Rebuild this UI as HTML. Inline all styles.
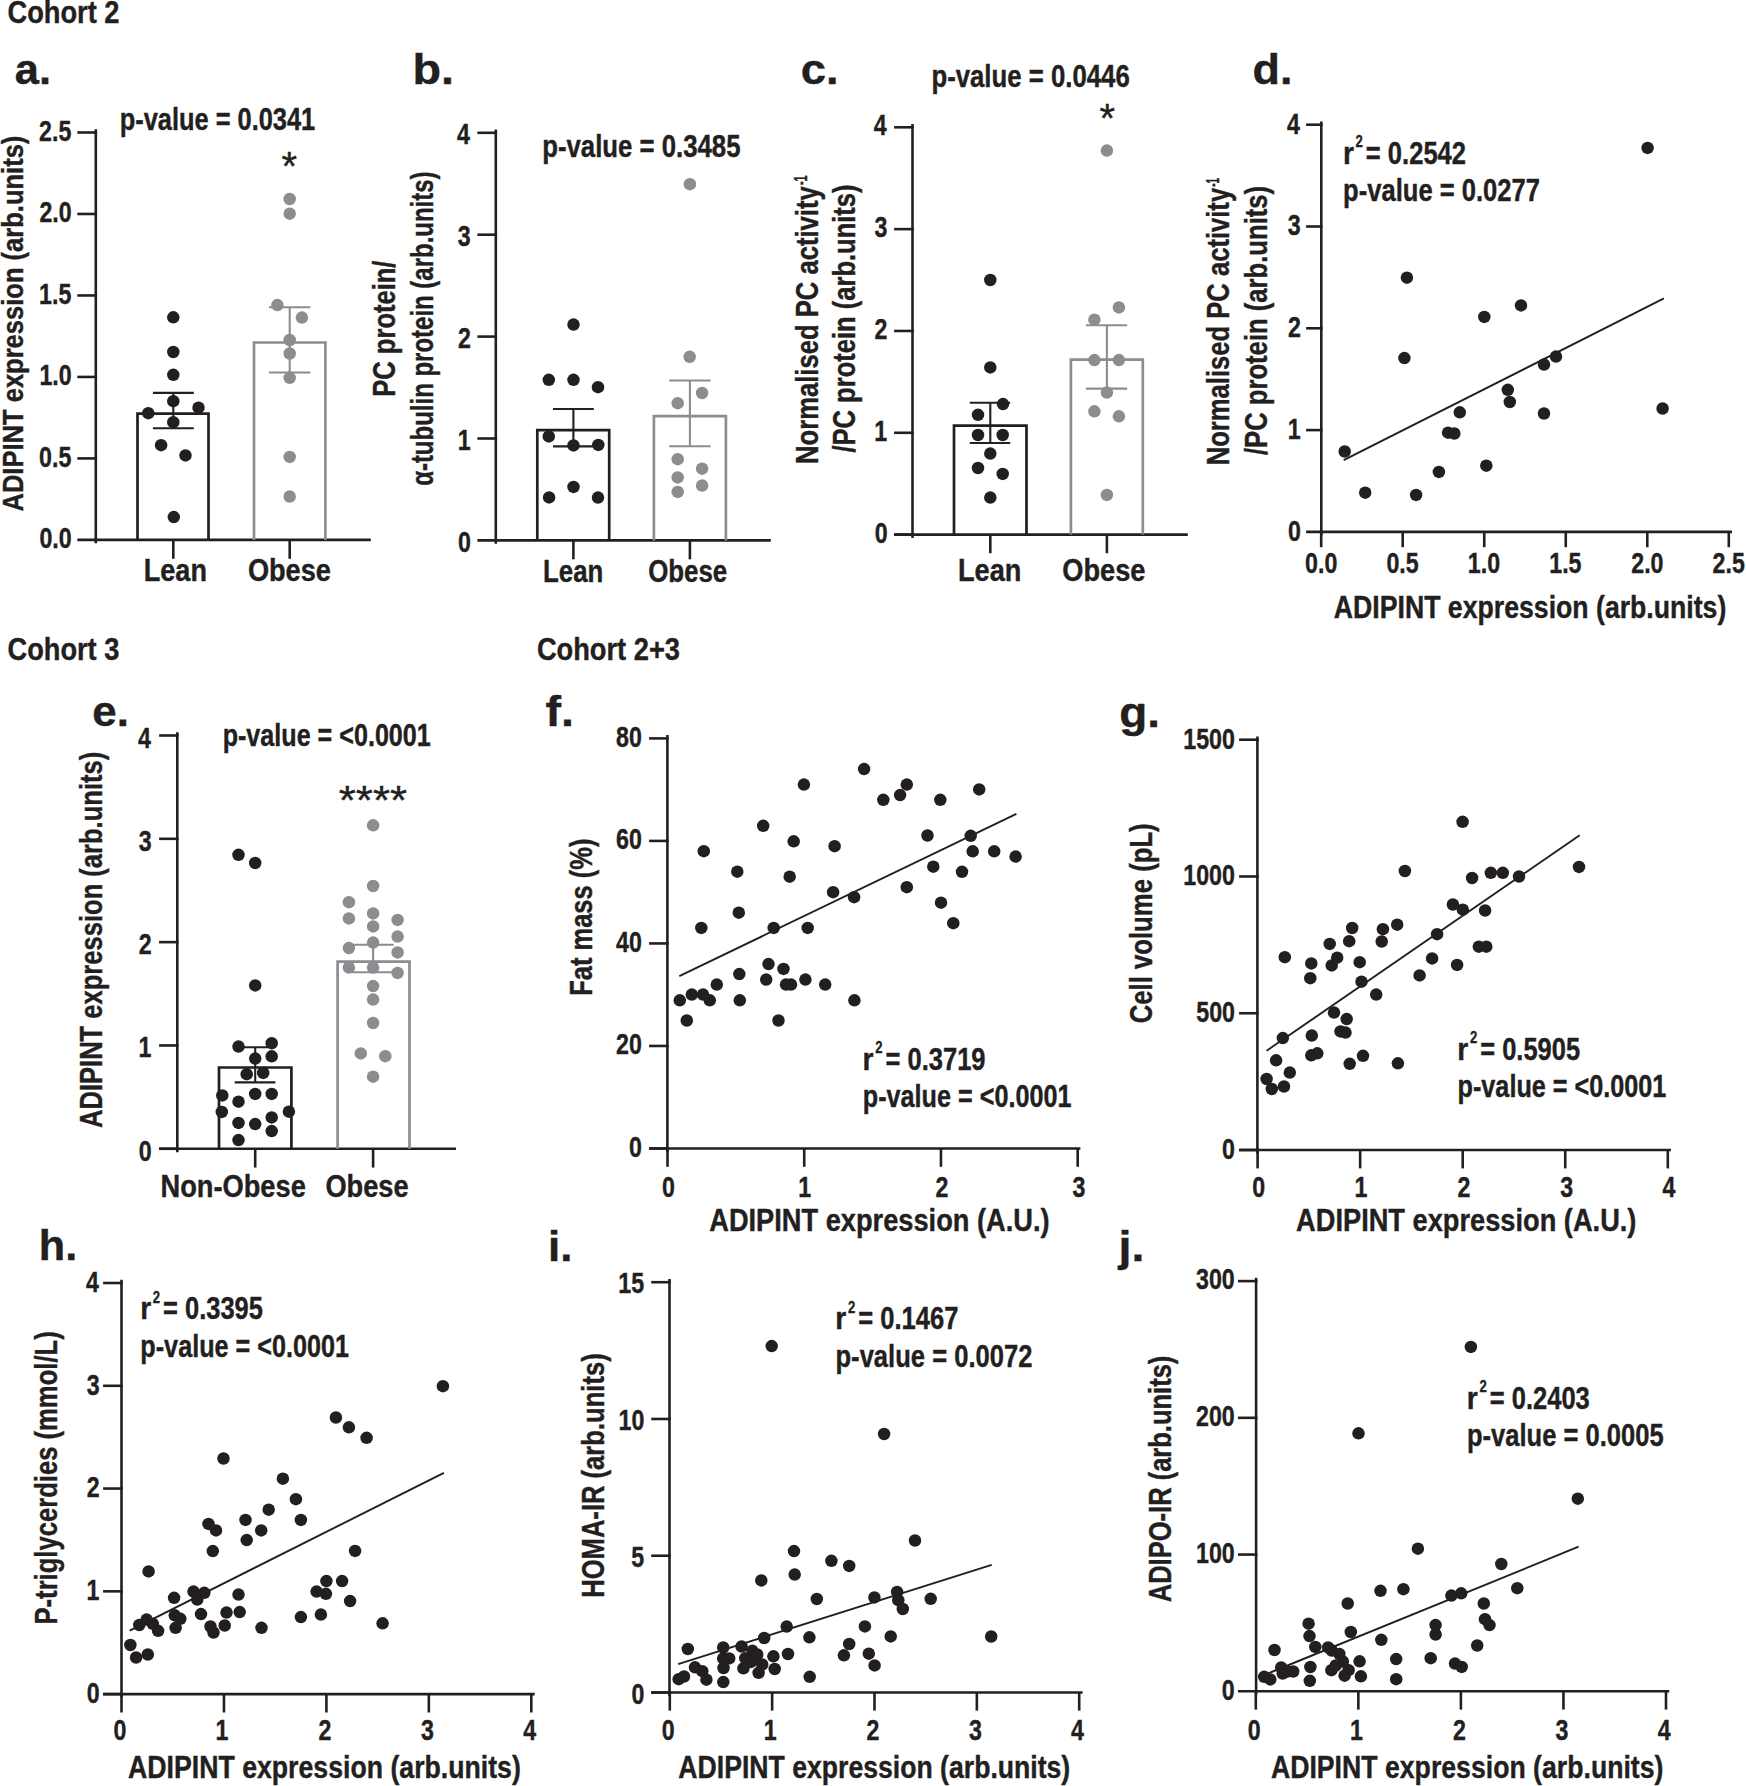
<!DOCTYPE html>
<html><head><meta charset="utf-8"><title>Figure</title>
<style>html,body{margin:0;padding:0;background:#fff}svg{display:block}text{font-family:"Liberation Sans",sans-serif;font-weight:bold;fill:#231f20;stroke:#231f20;stroke-width:0.4px}</style>
</head><body>
<svg width="1746" height="1786" viewBox="0 0 1746 1786">
<rect width="1746" height="1786" fill="#fff"/>
<text x="7.48" y="22.9" font-size="31.5" textLength="112.01" lengthAdjust="spacingAndGlyphs">Cohort 2</text>
<text x="7.48" y="660.3" font-size="31.5" textLength="111.9" lengthAdjust="spacingAndGlyphs">Cohort 3</text>
<text x="536.88" y="660.3" font-size="31.5" textLength="143.1" lengthAdjust="spacingAndGlyphs">Cohort 2+3</text>
<text x="14.83" y="83.8" font-size="43" textLength="36.27" lengthAdjust="spacingAndGlyphs">a.</text>
<text x="412.42" y="84" font-size="43" textLength="41.49" lengthAdjust="spacingAndGlyphs">b.</text>
<text x="800.73" y="84" font-size="43" textLength="37.79" lengthAdjust="spacingAndGlyphs">c.</text>
<text x="1252.56" y="84" font-size="43" textLength="39.94" lengthAdjust="spacingAndGlyphs">d.</text>
<text x="92.28" y="725.7" font-size="43" textLength="36.64" lengthAdjust="spacingAndGlyphs">e.</text>
<text x="545.4" y="725.7" font-size="43" textLength="28.51" lengthAdjust="spacingAndGlyphs">f.</text>
<text x="1119.32" y="727" font-size="43" textLength="40.74" lengthAdjust="spacingAndGlyphs">g.</text>
<text x="38.88" y="1260.3" font-size="43" textLength="38.39" lengthAdjust="spacingAndGlyphs">h.</text>
<text x="548.14" y="1260.8" font-size="43" textLength="24.39" lengthAdjust="spacingAndGlyphs">i.</text>
<text x="1118.63" y="1260.5" font-size="43" textLength="25.88" lengthAdjust="spacingAndGlyphs">j.</text>
<line x1="95.8" y1="129.2" x2="95.8" y2="543.3" stroke="#231f20" stroke-width="2.6"/>
<line x1="77.3" y1="539.9" x2="370.8" y2="539.9" stroke="#231f20" stroke-width="2.6"/>
<line x1="77.3" y1="132.5" x2="97.1" y2="132.5" stroke="#231f20" stroke-width="2.6"/>
<text x="39.08" y="140.9" font-size="29.2" textLength="32.27" lengthAdjust="spacingAndGlyphs">2.5</text>
<line x1="77.3" y1="213.98" x2="97.1" y2="213.98" stroke="#231f20" stroke-width="2.6"/>
<text x="39.38" y="222.38" font-size="29.2" textLength="32.27" lengthAdjust="spacingAndGlyphs">2.0</text>
<line x1="77.3" y1="295.46" x2="97.1" y2="295.46" stroke="#231f20" stroke-width="2.6"/>
<text x="39.08" y="303.86" font-size="29.2" textLength="32.27" lengthAdjust="spacingAndGlyphs">1.5</text>
<line x1="77.3" y1="376.94" x2="97.1" y2="376.94" stroke="#231f20" stroke-width="2.6"/>
<text x="39.38" y="385.34" font-size="29.2" textLength="32.27" lengthAdjust="spacingAndGlyphs">1.0</text>
<line x1="77.3" y1="458.42" x2="97.1" y2="458.42" stroke="#231f20" stroke-width="2.6"/>
<text x="39.08" y="466.82" font-size="29.2" textLength="32.27" lengthAdjust="spacingAndGlyphs">0.5</text>
<text x="39.38" y="548.3" font-size="29.2" textLength="32.27" lengthAdjust="spacingAndGlyphs">0.0</text>
<line x1="173.3" y1="539.9" x2="173.3" y2="558.8" stroke="#231f20" stroke-width="2.6"/>
<line x1="289.7" y1="539.9" x2="289.7" y2="558.8" stroke="#231f20" stroke-width="2.6"/>
<path d="M137.5 539.9V413.7H208.5V539.9" fill="none" stroke="#231f20" stroke-width="2.7"/>
<path d="M254 539.9V342.5H325.4V539.9" fill="none" stroke="#8b8d90" stroke-width="2.7"/>
<path d="M152.9 392.9H193.8M152.9 428.2H193.8M173.3 392.9V428.2" fill="none" stroke="#231f20" stroke-width="2.1"/>
<path d="M269 307.3H310.4M269 372.5H310.4M289.7 307.3V372.5" fill="none" stroke="#8b8d90" stroke-width="2.1"/>
<g fill="#231f20"><circle cx="173.3" cy="317.3" r="6.25"/><circle cx="173.3" cy="352" r="6.25"/><circle cx="173.3" cy="374.8" r="6.25"/><circle cx="173.3" cy="401.2" r="6.25"/><circle cx="198.5" cy="407.7" r="6.25"/><circle cx="148.3" cy="413.2" r="6.25"/><circle cx="173.3" cy="422.2" r="6.25"/><circle cx="161.1" cy="445.2" r="6.25"/><circle cx="185.5" cy="455.4" r="6.25"/><circle cx="173.8" cy="517.1" r="6.25"/></g>
<g fill="#8b8d90"><circle cx="289.7" cy="199" r="6.25"/><circle cx="289.7" cy="213.7" r="6.25"/><circle cx="277.4" cy="305.1" r="6.25"/><circle cx="301.9" cy="317.6" r="6.25"/><circle cx="289.7" cy="340" r="6.25"/><circle cx="289.7" cy="353.5" r="6.25"/><circle cx="289.7" cy="377.8" r="6.25"/><circle cx="289.7" cy="456.9" r="6.25"/><circle cx="289.7" cy="496.6" r="6.25"/></g>
<text x="143.79" y="580.5" font-size="31" textLength="63.19" lengthAdjust="spacingAndGlyphs">Lean</text>
<text x="247.89" y="580.5" font-size="31" textLength="83.04" lengthAdjust="spacingAndGlyphs">Obese</text>
<text x="119.73" y="130.4" font-size="31" textLength="195.48" lengthAdjust="spacingAndGlyphs">p-value = 0.0341</text>
<text x="281.51" y="180.1" font-size="40" textLength="15.57" lengthAdjust="spacingAndGlyphs" style="font-weight:normal">*</text>
<text transform="translate(23 510.9) rotate(-90)" x="-0.64" y="0" font-size="30" textLength="375.91" lengthAdjust="spacingAndGlyphs">ADIPINT expression (arb.units)</text>
<line x1="495.8" y1="129.5" x2="495.8" y2="543.8" stroke="#231f20" stroke-width="2.6"/>
<line x1="477.4" y1="540.4" x2="770.8" y2="540.4" stroke="#231f20" stroke-width="2.6"/>
<line x1="477.4" y1="132.8" x2="497.1" y2="132.8" stroke="#231f20" stroke-width="2.6"/>
<text x="457.11" y="143.9" font-size="29.2" textLength="12.91" lengthAdjust="spacingAndGlyphs">4</text>
<line x1="477.4" y1="234.7" x2="497.1" y2="234.7" stroke="#231f20" stroke-width="2.6"/>
<text x="457.83" y="245.8" font-size="29.2" textLength="12.91" lengthAdjust="spacingAndGlyphs">3</text>
<line x1="477.4" y1="336.6" x2="497.1" y2="336.6" stroke="#231f20" stroke-width="2.6"/>
<text x="457.92" y="347.7" font-size="29.2" textLength="12.91" lengthAdjust="spacingAndGlyphs">2</text>
<line x1="477.4" y1="438.5" x2="497.1" y2="438.5" stroke="#231f20" stroke-width="2.6"/>
<text x="457.64" y="449.6" font-size="29.2" textLength="12.91" lengthAdjust="spacingAndGlyphs">1</text>
<text x="457.94" y="551.5" font-size="29.2" textLength="12.91" lengthAdjust="spacingAndGlyphs">0</text>
<line x1="573.4" y1="540.4" x2="573.4" y2="559.3" stroke="#231f20" stroke-width="2.6"/>
<line x1="689.9" y1="540.4" x2="689.9" y2="559.3" stroke="#231f20" stroke-width="2.6"/>
<path d="M537.3 540.4V430.2H609.2V540.4" fill="none" stroke="#231f20" stroke-width="2.7"/>
<path d="M653.9 540.4V416.2H725.9V540.4" fill="none" stroke="#8b8d90" stroke-width="2.7"/>
<path d="M553 409H593.8M553 446.4H593.8M573.4 409V446.4" fill="none" stroke="#231f20" stroke-width="2.1"/>
<path d="M669.2 380.5H710.6M669.2 446.2H710.6M689.9 380.5V446.2" fill="none" stroke="#8b8d90" stroke-width="2.1"/>
<g fill="#231f20"><circle cx="573.5" cy="324.6" r="6.25"/><circle cx="548.8" cy="379.8" r="6.25"/><circle cx="573.5" cy="379.8" r="6.25"/><circle cx="598" cy="387.2" r="6.25"/><circle cx="548.8" cy="436.4" r="6.25"/><circle cx="573.5" cy="445.4" r="6.25"/><circle cx="598.3" cy="444.9" r="6.25"/><circle cx="573.5" cy="486.9" r="6.25"/><circle cx="549.1" cy="497.4" r="6.25"/><circle cx="598" cy="497.6" r="6.25"/></g>
<g fill="#8b8d90"><circle cx="689.9" cy="184.2" r="6.25"/><circle cx="689.7" cy="356.8" r="6.25"/><circle cx="702.1" cy="393" r="6.25"/><circle cx="677.7" cy="403.2" r="6.25"/><circle cx="677.7" cy="459.2" r="6.25"/><circle cx="702.1" cy="468.7" r="6.25"/><circle cx="677.7" cy="477.4" r="6.25"/><circle cx="702.1" cy="485.6" r="6.25"/><circle cx="677.7" cy="491.9" r="6.25"/></g>
<text x="543.07" y="582.1" font-size="31" textLength="60.23" lengthAdjust="spacingAndGlyphs">Lean</text>
<text x="648.14" y="582.1" font-size="31" textLength="79.15" lengthAdjust="spacingAndGlyphs">Obese</text>
<text x="542.2" y="157.4" font-size="31" textLength="198.31" lengthAdjust="spacingAndGlyphs">p-value = 0.3485</text>
<text transform="translate(394.8 395) rotate(-90)" x="-1.71" y="0" font-size="31.2" textLength="136.16" lengthAdjust="spacingAndGlyphs">PC protein/</text>
<text transform="translate(432.5 484.9) rotate(-90)" x="-0.94" y="0" font-size="31.2" textLength="314.43" lengthAdjust="spacingAndGlyphs">α-tubulin protein (arb.units)</text>
<line x1="912.5" y1="124" x2="912.5" y2="538" stroke="#231f20" stroke-width="2.6"/>
<line x1="894.1" y1="534.6" x2="1187.8" y2="534.6" stroke="#231f20" stroke-width="2.6"/>
<line x1="894.1" y1="127.3" x2="913.8" y2="127.3" stroke="#231f20" stroke-width="2.6"/>
<text x="873.81" y="135.4" font-size="29.2" textLength="12.91" lengthAdjust="spacingAndGlyphs">4</text>
<line x1="894.1" y1="229.13" x2="913.8" y2="229.13" stroke="#231f20" stroke-width="2.6"/>
<text x="874.53" y="237.23" font-size="29.2" textLength="12.91" lengthAdjust="spacingAndGlyphs">3</text>
<line x1="894.1" y1="330.96" x2="913.8" y2="330.96" stroke="#231f20" stroke-width="2.6"/>
<text x="874.62" y="339.06" font-size="29.2" textLength="12.91" lengthAdjust="spacingAndGlyphs">2</text>
<line x1="894.1" y1="432.79" x2="913.8" y2="432.79" stroke="#231f20" stroke-width="2.6"/>
<text x="874.34" y="440.89" font-size="29.2" textLength="12.91" lengthAdjust="spacingAndGlyphs">1</text>
<line x1="894.1" y1="534.62" x2="913.8" y2="534.62" stroke="#231f20" stroke-width="2.6"/>
<text x="874.64" y="542.72" font-size="29.2" textLength="12.91" lengthAdjust="spacingAndGlyphs">0</text>
<line x1="990.3" y1="534.6" x2="990.3" y2="553.2" stroke="#231f20" stroke-width="2.6"/>
<line x1="1106.9" y1="534.6" x2="1106.9" y2="553.2" stroke="#231f20" stroke-width="2.6"/>
<path d="M954 534.6V425.6H1026.5V534.6" fill="none" stroke="#231f20" stroke-width="2.7"/>
<path d="M1070.9 534.6V359.6H1142.8V534.6" fill="none" stroke="#8b8d90" stroke-width="2.7"/>
<path d="M969.8 402.8H1010.2M969.8 443H1010.2M990.3 402.8V443" fill="none" stroke="#231f20" stroke-width="2.1"/>
<path d="M1085.9 325.2H1127.1M1085.9 388.6H1127.1M1106.9 325.2V388.6" fill="none" stroke="#8b8d90" stroke-width="2.1"/>
<g fill="#231f20"><circle cx="990.3" cy="280" r="6.25"/><circle cx="990.3" cy="367.4" r="6.25"/><circle cx="1003" cy="404.1" r="6.25"/><circle cx="978" cy="414.8" r="6.25"/><circle cx="978" cy="435" r="6.25"/><circle cx="1002.7" cy="435" r="6.25"/><circle cx="990.3" cy="453.6" r="6.25"/><circle cx="978" cy="468" r="6.25"/><circle cx="1002.7" cy="473.9" r="6.25"/><circle cx="990.3" cy="497.6" r="6.25"/></g>
<g fill="#8b8d90"><circle cx="1106.9" cy="150.6" r="6.25"/><circle cx="1118.9" cy="307.4" r="6.25"/><circle cx="1094.4" cy="319.7" r="6.25"/><circle cx="1094.4" cy="360.1" r="6.25"/><circle cx="1118.9" cy="360.1" r="6.25"/><circle cx="1106.9" cy="392.6" r="6.25"/><circle cx="1094.4" cy="411.3" r="6.25"/><circle cx="1118.9" cy="416.3" r="6.25"/><circle cx="1106.9" cy="494.9" r="6.25"/></g>
<text x="957.98" y="581" font-size="31" textLength="63.4" lengthAdjust="spacingAndGlyphs">Lean</text>
<text x="1062.28" y="581" font-size="31" textLength="83.25" lengthAdjust="spacingAndGlyphs">Obese</text>
<text x="931.4" y="87.2" font-size="31" textLength="198.33" lengthAdjust="spacingAndGlyphs">p-value = 0.0446</text>
<text x="1099.41" y="132" font-size="40" textLength="15.57" lengthAdjust="spacingAndGlyphs" style="font-weight:normal">*</text>
<text transform="translate(817.5 462.3) rotate(-90)"><tspan x="-1.71" y="0" font-size="31.5" textLength="277.75" lengthAdjust="spacingAndGlyphs">Normalised PC activity</tspan><tspan x="277.18" y="-10.8" font-size="18" textLength="9.52" lengthAdjust="spacingAndGlyphs">-1</tspan></text>
<text transform="translate(855.1 452.3) rotate(-90)" x="-0.25" y="0" font-size="31.5" textLength="268.12" lengthAdjust="spacingAndGlyphs">/PC protein (arb.units)</text>
<line x1="1321.3" y1="121.4" x2="1321.3" y2="535.3" stroke="#231f20" stroke-width="2.6"/>
<line x1="1306.1" y1="531.9" x2="1732" y2="531.9" stroke="#231f20" stroke-width="2.6"/>
<line x1="1306.1" y1="124.7" x2="1322.6" y2="124.7" stroke="#231f20" stroke-width="2.6"/>
<text x="1287.11" y="133.65" font-size="29.2" textLength="12.91" lengthAdjust="spacingAndGlyphs">4</text>
<line x1="1306.1" y1="226.5" x2="1322.6" y2="226.5" stroke="#231f20" stroke-width="2.6"/>
<text x="1287.83" y="235.45" font-size="29.2" textLength="12.91" lengthAdjust="spacingAndGlyphs">3</text>
<line x1="1306.1" y1="328.3" x2="1322.6" y2="328.3" stroke="#231f20" stroke-width="2.6"/>
<text x="1287.92" y="337.25" font-size="29.2" textLength="12.91" lengthAdjust="spacingAndGlyphs">2</text>
<line x1="1306.1" y1="430.1" x2="1322.6" y2="430.1" stroke="#231f20" stroke-width="2.6"/>
<text x="1287.64" y="439.05" font-size="29.2" textLength="12.91" lengthAdjust="spacingAndGlyphs">1</text>
<text x="1287.94" y="540.85" font-size="29.2" textLength="12.91" lengthAdjust="spacingAndGlyphs">0</text>
<line x1="1321.2" y1="531.9" x2="1321.2" y2="547.2" stroke="#231f20" stroke-width="2.6"/>
<text x="1305.08" y="573.1" font-size="29.2" textLength="32.27" lengthAdjust="spacingAndGlyphs">0.0</text>
<line x1="1402.72" y1="531.9" x2="1402.72" y2="547.2" stroke="#231f20" stroke-width="2.6"/>
<text x="1386.45" y="573.1" font-size="29.2" textLength="32.27" lengthAdjust="spacingAndGlyphs">0.5</text>
<line x1="1484.24" y1="531.9" x2="1484.24" y2="547.2" stroke="#231f20" stroke-width="2.6"/>
<text x="1467.85" y="573.1" font-size="29.2" textLength="32.27" lengthAdjust="spacingAndGlyphs">1.0</text>
<line x1="1565.76" y1="531.9" x2="1565.76" y2="547.2" stroke="#231f20" stroke-width="2.6"/>
<text x="1549.22" y="573.1" font-size="29.2" textLength="32.27" lengthAdjust="spacingAndGlyphs">1.5</text>
<line x1="1647.28" y1="531.9" x2="1647.28" y2="547.2" stroke="#231f20" stroke-width="2.6"/>
<text x="1631.22" y="573.1" font-size="29.2" textLength="32.27" lengthAdjust="spacingAndGlyphs">2.0</text>
<line x1="1728.8" y1="531.9" x2="1728.8" y2="547.2" stroke="#231f20" stroke-width="2.6"/>
<text x="1712.59" y="573.1" font-size="29.2" textLength="32.27" lengthAdjust="spacingAndGlyphs">2.5</text>
<line x1="1343.7" y1="460.2" x2="1663.9" y2="298.4" stroke="#231f20" stroke-width="1.9"/>
<g fill="#231f20"><circle cx="1344.7" cy="451.5" r="6.25"/><circle cx="1365.2" cy="492.7" r="6.25"/><circle cx="1416.1" cy="494.9" r="6.25"/><circle cx="1438.9" cy="471.9" r="6.25"/><circle cx="1448.1" cy="432.7" r="6.25"/><circle cx="1454.3" cy="433.5" r="6.25"/><circle cx="1459.8" cy="412.3" r="6.25"/><circle cx="1486.3" cy="465.7" r="6.25"/><circle cx="1404.4" cy="358.1" r="6.25"/><circle cx="1406.9" cy="277.7" r="6.25"/><circle cx="1484.3" cy="316.9" r="6.25"/><circle cx="1521" cy="305.4" r="6.25"/><circle cx="1507.8" cy="389.8" r="6.25"/><circle cx="1509.8" cy="402" r="6.25"/><circle cx="1544" cy="364.6" r="6.25"/><circle cx="1556" cy="356.6" r="6.25"/><circle cx="1544" cy="413.5" r="6.25"/><circle cx="1662.6" cy="408.5" r="6.25"/><circle cx="1647.6" cy="147.9" r="6.25"/></g>
<text><tspan x="1342.94" y="163.6" font-size="31" textLength="10.99" lengthAdjust="spacingAndGlyphs">r</tspan><tspan x="1355.55" y="147" font-size="16.5" textLength="7.28" lengthAdjust="spacingAndGlyphs">2</tspan><tspan x="1358.74" y="163.6" font-size="31" textLength="107.28" lengthAdjust="spacingAndGlyphs"> = 0.2542</tspan></text>
<text x="1343.11" y="201" font-size="31" textLength="196.91" lengthAdjust="spacingAndGlyphs">p-value = 0.0277</text>
<text x="1333.84" y="618.3" font-size="31" textLength="392.49" lengthAdjust="spacingAndGlyphs">ADIPINT expression (arb.units)</text>
<text transform="translate(1229.1 463.6) rotate(-90)"><tspan x="-1.71" y="0" font-size="31.5" textLength="277.45" lengthAdjust="spacingAndGlyphs">Normalised PC activity</tspan><tspan x="276.81" y="-10.4" font-size="18" textLength="8.98" lengthAdjust="spacingAndGlyphs">-1</tspan></text>
<text transform="translate(1267.1 454.8) rotate(-90)" x="-0.25" y="0" font-size="31.5" textLength="269.13" lengthAdjust="spacingAndGlyphs">/PC protein (arb.units)</text>
<line x1="177.3" y1="732.2" x2="177.3" y2="1152.2" stroke="#231f20" stroke-width="2.6"/>
<line x1="159.1" y1="1148.8" x2="456" y2="1148.8" stroke="#231f20" stroke-width="2.6"/>
<line x1="159.1" y1="735.5" x2="178.6" y2="735.5" stroke="#231f20" stroke-width="2.6"/>
<text x="137.91" y="747.5" font-size="29.2" textLength="12.91" lengthAdjust="spacingAndGlyphs">4</text>
<line x1="159.1" y1="838.82" x2="178.6" y2="838.82" stroke="#231f20" stroke-width="2.6"/>
<text x="138.63" y="850.82" font-size="29.2" textLength="12.91" lengthAdjust="spacingAndGlyphs">3</text>
<line x1="159.1" y1="942.14" x2="178.6" y2="942.14" stroke="#231f20" stroke-width="2.6"/>
<text x="138.72" y="954.14" font-size="29.2" textLength="12.91" lengthAdjust="spacingAndGlyphs">2</text>
<line x1="159.1" y1="1045.46" x2="178.6" y2="1045.46" stroke="#231f20" stroke-width="2.6"/>
<text x="138.44" y="1057.46" font-size="29.2" textLength="12.91" lengthAdjust="spacingAndGlyphs">1</text>
<line x1="159.1" y1="1148.78" x2="178.6" y2="1148.78" stroke="#231f20" stroke-width="2.6"/>
<text x="138.74" y="1160.78" font-size="29.2" textLength="12.91" lengthAdjust="spacingAndGlyphs">0</text>
<line x1="255.2" y1="1148.8" x2="255.2" y2="1167.6" stroke="#231f20" stroke-width="2.6"/>
<line x1="373.1" y1="1148.8" x2="373.1" y2="1167.6" stroke="#231f20" stroke-width="2.6"/>
<path d="M219 1148.8V1067.5H291.4V1148.8" fill="none" stroke="#231f20" stroke-width="2.7"/>
<path d="M337.6 1148.8V961.6H409.5V1148.8" fill="none" stroke="#8b8d90" stroke-width="2.7"/>
<path d="M234.7 1047.2H275.4M234.7 1082.4H275.4M255.2 1047.2V1082.4" fill="none" stroke="#231f20" stroke-width="2.1"/>
<path d="M352.1 944.7H393.8M352.1 972.2H393.8M373.1 944.7V972.2" fill="none" stroke="#8b8d90" stroke-width="2.1"/>
<g fill="#231f20"><circle cx="238.5" cy="854.8" r="6.25"/><circle cx="255.2" cy="863" r="6.25"/><circle cx="255.2" cy="985.4" r="6.25"/><circle cx="238.5" cy="1046.6" r="6.25"/><circle cx="271.7" cy="1043.2" r="6.25"/><circle cx="255.2" cy="1058.6" r="6.25"/><circle cx="271.7" cy="1056.3" r="6.25"/><circle cx="246.7" cy="1074.2" r="6.25"/><circle cx="263.2" cy="1072.9" r="6.25"/><circle cx="222.3" cy="1095.4" r="6.25"/><circle cx="255.2" cy="1093.9" r="6.25"/><circle cx="271.7" cy="1093.9" r="6.25"/><circle cx="238.5" cy="1101.7" r="6.25"/><circle cx="221.8" cy="1111.9" r="6.25"/><circle cx="288.9" cy="1111.7" r="6.25"/><circle cx="271.7" cy="1117.4" r="6.25"/><circle cx="238.5" cy="1122.9" r="6.25"/><circle cx="255.2" cy="1124.1" r="6.25"/><circle cx="271.7" cy="1131.1" r="6.25"/><circle cx="238.5" cy="1140.1" r="6.25"/></g>
<g fill="#8b8d90"><circle cx="373.1" cy="825.3" r="6.25"/><circle cx="373.1" cy="886" r="6.25"/><circle cx="348.9" cy="902.2" r="6.25"/><circle cx="373.1" cy="913.4" r="6.25"/><circle cx="348.9" cy="918.4" r="6.25"/><circle cx="397.6" cy="919.9" r="6.25"/><circle cx="373.1" cy="926.4" r="6.25"/><circle cx="397.6" cy="936.6" r="6.25"/><circle cx="373.1" cy="942.6" r="6.25"/><circle cx="348.9" cy="948.1" r="6.25"/><circle cx="397.6" cy="952.4" r="6.25"/><circle cx="348.9" cy="967.6" r="6.25"/><circle cx="373.1" cy="967.6" r="6.25"/><circle cx="397.6" cy="972.9" r="6.25"/><circle cx="373.1" cy="986.1" r="6.25"/><circle cx="373.1" cy="999.6" r="6.25"/><circle cx="373.1" cy="1023" r="6.25"/><circle cx="360.8" cy="1053.4" r="6.25"/><circle cx="385.3" cy="1056.2" r="6.25"/><circle cx="373.1" cy="1076.7" r="6.25"/></g>
<text x="160.48" y="1196.9" font-size="31" textLength="145.35" lengthAdjust="spacingAndGlyphs">Non-Obese</text>
<text x="325.38" y="1196.9" font-size="31" textLength="83.25" lengthAdjust="spacingAndGlyphs">Obese</text>
<text x="222.64" y="746.3" font-size="31" textLength="208.16" lengthAdjust="spacingAndGlyphs">p-value = &lt;0.0001</text>
<text x="338.79" y="814.3" font-size="40" textLength="68.19" lengthAdjust="spacingAndGlyphs" style="font-weight:normal">****</text>
<text transform="translate(101.8 1127.4) rotate(-90)" x="-0.64" y="0" font-size="31" textLength="376.31" lengthAdjust="spacingAndGlyphs">ADIPINT expression (arb.units)</text>
<line x1="667.4" y1="735.1" x2="667.4" y2="1151.9" stroke="#231f20" stroke-width="2.6"/>
<line x1="649.1" y1="1148.5" x2="1080.4" y2="1148.5" stroke="#231f20" stroke-width="2.6"/>
<line x1="649.1" y1="738.4" x2="668.7" y2="738.4" stroke="#231f20" stroke-width="2.6"/>
<text x="616.03" y="746.9" font-size="29.2" textLength="25.82" lengthAdjust="spacingAndGlyphs">80</text>
<line x1="649.1" y1="840.92" x2="668.7" y2="840.92" stroke="#231f20" stroke-width="2.6"/>
<text x="616.03" y="849.42" font-size="29.2" textLength="25.82" lengthAdjust="spacingAndGlyphs">60</text>
<line x1="649.1" y1="943.44" x2="668.7" y2="943.44" stroke="#231f20" stroke-width="2.6"/>
<text x="616.03" y="951.94" font-size="29.2" textLength="25.82" lengthAdjust="spacingAndGlyphs">40</text>
<line x1="649.1" y1="1045.96" x2="668.7" y2="1045.96" stroke="#231f20" stroke-width="2.6"/>
<text x="616.03" y="1054.46" font-size="29.2" textLength="25.82" lengthAdjust="spacingAndGlyphs">20</text>
<line x1="649.1" y1="1148.48" x2="668.7" y2="1148.48" stroke="#231f20" stroke-width="2.6"/>
<text x="628.94" y="1156.98" font-size="29.2" textLength="12.91" lengthAdjust="spacingAndGlyphs">0</text>
<line x1="667.5" y1="1148.5" x2="667.5" y2="1166.8" stroke="#231f20" stroke-width="2.6"/>
<text x="662.06" y="1197.2" font-size="29.2" textLength="12.91" lengthAdjust="spacingAndGlyphs">0</text>
<line x1="804.23" y1="1148.5" x2="804.23" y2="1166.8" stroke="#231f20" stroke-width="2.6"/>
<text x="798.37" y="1197.2" font-size="29.2" textLength="12.91" lengthAdjust="spacingAndGlyphs">1</text>
<line x1="940.96" y1="1148.5" x2="940.96" y2="1166.8" stroke="#231f20" stroke-width="2.6"/>
<text x="935.57" y="1197.2" font-size="29.2" textLength="12.91" lengthAdjust="spacingAndGlyphs">2</text>
<line x1="1077.69" y1="1148.5" x2="1077.69" y2="1166.8" stroke="#231f20" stroke-width="2.6"/>
<text x="1072.39" y="1197.2" font-size="29.2" textLength="12.91" lengthAdjust="spacingAndGlyphs">3</text>
<line x1="679.3" y1="976.1" x2="1016.4" y2="813.9" stroke="#231f20" stroke-width="1.9"/>
<g fill="#231f20"><circle cx="679.8" cy="1000.3" r="6.25"/><circle cx="686.8" cy="1020.5" r="6.25"/><circle cx="691.8" cy="994.6" r="6.25"/><circle cx="703" cy="994.6" r="6.25"/><circle cx="709.8" cy="1000.3" r="6.25"/><circle cx="716.8" cy="984.6" r="6.25"/><circle cx="701.3" cy="927.9" r="6.25"/><circle cx="703.8" cy="851.2" r="6.25"/><circle cx="737.3" cy="871.7" r="6.25"/><circle cx="738.8" cy="912.7" r="6.25"/><circle cx="739.3" cy="974.1" r="6.25"/><circle cx="739.8" cy="1000.3" r="6.25"/><circle cx="763.2" cy="825.8" r="6.25"/><circle cx="768.5" cy="964.1" r="6.25"/><circle cx="766.2" cy="979.6" r="6.25"/><circle cx="773.7" cy="927.9" r="6.25"/><circle cx="778.5" cy="1020.5" r="6.25"/><circle cx="783.5" cy="968.9" r="6.25"/><circle cx="786" cy="984.6" r="6.25"/><circle cx="791" cy="984.6" r="6.25"/><circle cx="789.7" cy="876.7" r="6.25"/><circle cx="793.7" cy="841.3" r="6.25"/><circle cx="803.9" cy="784.6" r="6.25"/><circle cx="805.4" cy="979.6" r="6.25"/><circle cx="807.7" cy="927.9" r="6.25"/><circle cx="825.2" cy="984.6" r="6.25"/><circle cx="833.1" cy="892.2" r="6.25"/><circle cx="834.6" cy="846.2" r="6.25"/><circle cx="854.1" cy="897.2" r="6.25"/><circle cx="854.4" cy="1000.3" r="6.25"/><circle cx="864.1" cy="769.1" r="6.25"/><circle cx="883.3" cy="799.8" r="6.25"/><circle cx="900.1" cy="795.1" r="6.25"/><circle cx="906.8" cy="784.6" r="6.25"/><circle cx="906.8" cy="887.2" r="6.25"/><circle cx="927.5" cy="835.5" r="6.25"/><circle cx="933.3" cy="866.7" r="6.25"/><circle cx="940.3" cy="799.8" r="6.25"/><circle cx="941" cy="902.7" r="6.25"/><circle cx="953.3" cy="923.2" r="6.25"/><circle cx="979.2" cy="789.4" r="6.25"/><circle cx="970.7" cy="835.8" r="6.25"/><circle cx="972.7" cy="851.3" r="6.25"/><circle cx="994.2" cy="851.3" r="6.25"/><circle cx="1015.6" cy="856.6" r="6.25"/><circle cx="962" cy="871.8" r="6.25"/></g>
<text><tspan x="862.54" y="1069.9" font-size="31" textLength="10.99" lengthAdjust="spacingAndGlyphs">r</tspan><tspan x="875.15" y="1053.3" font-size="16.5" textLength="7.28" lengthAdjust="spacingAndGlyphs">2</tspan><tspan x="878.35" y="1069.9" font-size="31" textLength="107.2" lengthAdjust="spacingAndGlyphs"> = 0.3719</tspan></text>
<text x="862.74" y="1107.3" font-size="31" textLength="208.76" lengthAdjust="spacingAndGlyphs">p-value = &lt;0.0001</text>
<text x="709.22" y="1231.4" font-size="31" textLength="340.33" lengthAdjust="spacingAndGlyphs">ADIPINT expression (A.U.)</text>
<text transform="translate(592.2 994.1) rotate(-90)" x="-1.71" y="0" font-size="31.2" textLength="157.28" lengthAdjust="spacingAndGlyphs">Fat mass (%)</text>
<line x1="1257.4" y1="736.4" x2="1257.4" y2="1153.4" stroke="#231f20" stroke-width="2.6"/>
<line x1="1239.1" y1="1150" x2="1670.9" y2="1150" stroke="#231f20" stroke-width="2.6"/>
<line x1="1239.1" y1="739.7" x2="1258.7" y2="739.7" stroke="#231f20" stroke-width="2.6"/>
<text x="1183.31" y="748.7" font-size="29.2" textLength="51.64" lengthAdjust="spacingAndGlyphs">1500</text>
<line x1="1239.1" y1="876.47" x2="1258.7" y2="876.47" stroke="#231f20" stroke-width="2.6"/>
<text x="1183.31" y="885.47" font-size="29.2" textLength="51.64" lengthAdjust="spacingAndGlyphs">1000</text>
<line x1="1239.1" y1="1013.24" x2="1258.7" y2="1013.24" stroke="#231f20" stroke-width="2.6"/>
<text x="1196.22" y="1022.24" font-size="29.2" textLength="38.73" lengthAdjust="spacingAndGlyphs">500</text>
<line x1="1239.1" y1="1150.01" x2="1258.7" y2="1150.01" stroke="#231f20" stroke-width="2.6"/>
<text x="1222.04" y="1159.01" font-size="29.2" textLength="12.91" lengthAdjust="spacingAndGlyphs">0</text>
<line x1="1257.6" y1="1150" x2="1257.6" y2="1168.4" stroke="#231f20" stroke-width="2.6"/>
<text x="1252.36" y="1197.2" font-size="29.2" textLength="12.91" lengthAdjust="spacingAndGlyphs">0</text>
<line x1="1360.15" y1="1150" x2="1360.15" y2="1168.4" stroke="#231f20" stroke-width="2.6"/>
<text x="1354.49" y="1197.2" font-size="29.2" textLength="12.91" lengthAdjust="spacingAndGlyphs">1</text>
<line x1="1462.7" y1="1150" x2="1462.7" y2="1168.4" stroke="#231f20" stroke-width="2.6"/>
<text x="1457.51" y="1197.2" font-size="29.2" textLength="12.91" lengthAdjust="spacingAndGlyphs">2</text>
<line x1="1565.25" y1="1150" x2="1565.25" y2="1168.4" stroke="#231f20" stroke-width="2.6"/>
<text x="1560.15" y="1197.2" font-size="29.2" textLength="12.91" lengthAdjust="spacingAndGlyphs">3</text>
<line x1="1667.8" y1="1150" x2="1667.8" y2="1168.4" stroke="#231f20" stroke-width="2.6"/>
<text x="1662.43" y="1197.2" font-size="29.2" textLength="12.91" lengthAdjust="spacingAndGlyphs">4</text>
<line x1="1266.6" y1="1050.8" x2="1579.7" y2="835.2" stroke="#231f20" stroke-width="1.9"/>
<g fill="#231f20"><circle cx="1266.6" cy="1079" r="6.25"/><circle cx="1271.8" cy="1089" r="6.25"/><circle cx="1276.1" cy="1060.3" r="6.25"/><circle cx="1284" cy="1086.5" r="6.25"/><circle cx="1289.8" cy="1072.6" r="6.25"/><circle cx="1282.8" cy="1038.1" r="6.25"/><circle cx="1284.8" cy="957.2" r="6.25"/><circle cx="1311.8" cy="1035.6" r="6.25"/><circle cx="1311.3" cy="1055.3" r="6.25"/><circle cx="1317.3" cy="1053.3" r="6.25"/><circle cx="1310.3" cy="978.2" r="6.25"/><circle cx="1311.3" cy="963.4" r="6.25"/><circle cx="1329.7" cy="943.9" r="6.25"/><circle cx="1331.7" cy="965.4" r="6.25"/><circle cx="1337.2" cy="957.7" r="6.25"/><circle cx="1334" cy="1012.6" r="6.25"/><circle cx="1340.5" cy="1031.4" r="6.25"/><circle cx="1345.5" cy="1032.6" r="6.25"/><circle cx="1346.7" cy="1019.1" r="6.25"/><circle cx="1349.2" cy="941.2" r="6.25"/><circle cx="1352.2" cy="928" r="6.25"/><circle cx="1349.7" cy="1063.8" r="6.25"/><circle cx="1359.7" cy="962.2" r="6.25"/><circle cx="1361.5" cy="981.7" r="6.25"/><circle cx="1363" cy="1055.8" r="6.25"/><circle cx="1376.2" cy="994.6" r="6.25"/><circle cx="1381.7" cy="941.5" r="6.25"/><circle cx="1382.9" cy="929.2" r="6.25"/><circle cx="1397.2" cy="924.7" r="6.25"/><circle cx="1397.9" cy="1063.3" r="6.25"/><circle cx="1404.9" cy="871" r="6.25"/><circle cx="1419.6" cy="975.4" r="6.25"/><circle cx="1432.1" cy="958.4" r="6.25"/><circle cx="1437.1" cy="934.2" r="6.25"/><circle cx="1452.9" cy="904.5" r="6.25"/><circle cx="1457.1" cy="964.9" r="6.25"/><circle cx="1462.6" cy="821.8" r="6.25"/><circle cx="1462.8" cy="909.7" r="6.25"/><circle cx="1472.1" cy="878" r="6.25"/><circle cx="1478.8" cy="946.7" r="6.25"/><circle cx="1486.3" cy="946.7" r="6.25"/><circle cx="1485.1" cy="910.5" r="6.25"/><circle cx="1490.8" cy="872.8" r="6.25"/><circle cx="1502.8" cy="872.8" r="6.25"/><circle cx="1519" cy="876.5" r="6.25"/><circle cx="1579" cy="866.9" r="6.25"/></g>
<text><tspan x="1457.34" y="1059.5" font-size="31" textLength="10.99" lengthAdjust="spacingAndGlyphs">r</tspan><tspan x="1469.95" y="1042.9" font-size="16.5" textLength="7.28" lengthAdjust="spacingAndGlyphs">2</tspan><tspan x="1473.17" y="1059.5" font-size="31" textLength="106.94" lengthAdjust="spacingAndGlyphs"> = 0.5905</tspan></text>
<text x="1457.54" y="1097" font-size="31" textLength="208.86" lengthAdjust="spacingAndGlyphs">p-value = &lt;0.0001</text>
<text x="1296.12" y="1231.4" font-size="31" textLength="340.33" lengthAdjust="spacingAndGlyphs">ADIPINT expression (A.U.)</text>
<text transform="translate(1151.7 1022.3) rotate(-90)" x="-1.05" y="0" font-size="31" textLength="200.04" lengthAdjust="spacingAndGlyphs">Cell volume (pL)</text>
<line x1="121.5" y1="1279.7" x2="121.5" y2="1697.5" stroke="#231f20" stroke-width="2.6"/>
<line x1="103.1" y1="1694.1" x2="534.7" y2="1694.1" stroke="#231f20" stroke-width="2.6"/>
<line x1="103.1" y1="1283" x2="122.8" y2="1283" stroke="#231f20" stroke-width="2.6"/>
<text x="85.91" y="1291.8" font-size="29.2" textLength="12.91" lengthAdjust="spacingAndGlyphs">4</text>
<line x1="103.1" y1="1385.78" x2="122.8" y2="1385.78" stroke="#231f20" stroke-width="2.6"/>
<text x="86.63" y="1394.58" font-size="29.2" textLength="12.91" lengthAdjust="spacingAndGlyphs">3</text>
<line x1="103.1" y1="1488.56" x2="122.8" y2="1488.56" stroke="#231f20" stroke-width="2.6"/>
<text x="86.72" y="1497.36" font-size="29.2" textLength="12.91" lengthAdjust="spacingAndGlyphs">2</text>
<line x1="103.1" y1="1591.34" x2="122.8" y2="1591.34" stroke="#231f20" stroke-width="2.6"/>
<text x="86.44" y="1600.14" font-size="29.2" textLength="12.91" lengthAdjust="spacingAndGlyphs">1</text>
<line x1="103.1" y1="1694.12" x2="122.8" y2="1694.12" stroke="#231f20" stroke-width="2.6"/>
<text x="86.74" y="1702.92" font-size="29.2" textLength="12.91" lengthAdjust="spacingAndGlyphs">0</text>
<line x1="121.5" y1="1694.1" x2="121.5" y2="1712.5" stroke="#231f20" stroke-width="2.6"/>
<text x="113.46" y="1739.9" font-size="29.2" textLength="12.91" lengthAdjust="spacingAndGlyphs">0</text>
<line x1="223.95" y1="1694.1" x2="223.95" y2="1712.5" stroke="#231f20" stroke-width="2.6"/>
<text x="215.49" y="1739.9" font-size="29.2" textLength="12.91" lengthAdjust="spacingAndGlyphs">1</text>
<line x1="326.4" y1="1694.1" x2="326.4" y2="1712.5" stroke="#231f20" stroke-width="2.6"/>
<text x="318.41" y="1739.9" font-size="29.2" textLength="12.91" lengthAdjust="spacingAndGlyphs">2</text>
<line x1="428.85" y1="1694.1" x2="428.85" y2="1712.5" stroke="#231f20" stroke-width="2.6"/>
<text x="420.95" y="1739.9" font-size="29.2" textLength="12.91" lengthAdjust="spacingAndGlyphs">3</text>
<line x1="531.3" y1="1694.1" x2="531.3" y2="1712.5" stroke="#231f20" stroke-width="2.6"/>
<text x="523.13" y="1739.9" font-size="29.2" textLength="12.91" lengthAdjust="spacingAndGlyphs">4</text>
<line x1="129.7" y1="1630.6" x2="443.9" y2="1472.8" stroke="#231f20" stroke-width="1.9"/>
<g fill="#231f20"><circle cx="130.4" cy="1645" r="6.25"/><circle cx="136.1" cy="1657.5" r="6.25"/><circle cx="147.8" cy="1654.5" r="6.25"/><circle cx="139.3" cy="1625" r="6.25"/><circle cx="146.6" cy="1619.6" r="6.25"/><circle cx="152.8" cy="1623.8" r="6.25"/><circle cx="158.1" cy="1630.8" r="6.25"/><circle cx="148.6" cy="1571.4" r="6.25"/><circle cx="174.1" cy="1597.8" r="6.25"/><circle cx="174.8" cy="1615.3" r="6.25"/><circle cx="180.3" cy="1618.8" r="6.25"/><circle cx="175.6" cy="1627.8" r="6.25"/><circle cx="193.5" cy="1591.6" r="6.25"/><circle cx="197.3" cy="1599.6" r="6.25"/><circle cx="204.3" cy="1592.8" r="6.25"/><circle cx="201" cy="1614.1" r="6.25"/><circle cx="210.5" cy="1626.5" r="6.25"/><circle cx="213.5" cy="1632.5" r="6.25"/><circle cx="208.5" cy="1523.9" r="6.25"/><circle cx="216" cy="1530.4" r="6.25"/><circle cx="212.8" cy="1551.1" r="6.25"/><circle cx="223.5" cy="1458.5" r="6.25"/><circle cx="226.5" cy="1612.6" r="6.25"/><circle cx="224.7" cy="1625.5" r="6.25"/><circle cx="238.5" cy="1594.6" r="6.25"/><circle cx="239.7" cy="1612.1" r="6.25"/><circle cx="245.5" cy="1519.9" r="6.25"/><circle cx="246.7" cy="1540.1" r="6.25"/><circle cx="261.2" cy="1530.4" r="6.25"/><circle cx="261.5" cy="1627.8" r="6.25"/><circle cx="268.7" cy="1509.7" r="6.25"/><circle cx="282.9" cy="1478.7" r="6.25"/><circle cx="295.9" cy="1499.2" r="6.25"/><circle cx="300.9" cy="1519.9" r="6.25"/><circle cx="300.9" cy="1617.1" r="6.25"/><circle cx="316.6" cy="1591.6" r="6.25"/><circle cx="320.9" cy="1614.6" r="6.25"/><circle cx="325.9" cy="1593.8" r="6.25"/><circle cx="326.4" cy="1581.1" r="6.25"/><circle cx="335.9" cy="1417.5" r="6.25"/><circle cx="342.1" cy="1581.1" r="6.25"/><circle cx="348.9" cy="1427.3" r="6.25"/><circle cx="350.1" cy="1601.1" r="6.25"/><circle cx="355.1" cy="1550.9" r="6.25"/><circle cx="366.6" cy="1437.8" r="6.25"/><circle cx="382.6" cy="1623.3" r="6.25"/><circle cx="442.9" cy="1386.2" r="6.25"/></g>
<text><tspan x="140.14" y="1319.2" font-size="31" textLength="10.99" lengthAdjust="spacingAndGlyphs">r</tspan><tspan x="152.75" y="1302.6" font-size="16.5" textLength="7.28" lengthAdjust="spacingAndGlyphs">2</tspan><tspan x="155.97" y="1319.2" font-size="31" textLength="106.94" lengthAdjust="spacingAndGlyphs"> = 0.3395</tspan></text>
<text x="140.34" y="1356.7" font-size="31" textLength="208.76" lengthAdjust="spacingAndGlyphs">p-value = &lt;0.0001</text>
<text x="128.04" y="1777.8" font-size="31" textLength="392.79" lengthAdjust="spacingAndGlyphs">ADIPINT expression (arb.units)</text>
<text transform="translate(56.5 1622.8) rotate(-90)" x="-1.71" y="0" font-size="32" textLength="293.19" lengthAdjust="spacingAndGlyphs">P-triglycerdies (mmol/L)</text>
<line x1="669.5" y1="1278.9" x2="669.5" y2="1695.9" stroke="#231f20" stroke-width="2.6"/>
<line x1="651.2" y1="1692.5" x2="1082.6" y2="1692.5" stroke="#231f20" stroke-width="2.6"/>
<line x1="651.2" y1="1282.2" x2="670.8" y2="1282.2" stroke="#231f20" stroke-width="2.6"/>
<text x="618.23" y="1293.3" font-size="29.2" textLength="25.82" lengthAdjust="spacingAndGlyphs">15</text>
<line x1="651.2" y1="1418.97" x2="670.8" y2="1418.97" stroke="#231f20" stroke-width="2.6"/>
<text x="618.53" y="1430.07" font-size="29.2" textLength="25.82" lengthAdjust="spacingAndGlyphs">10</text>
<line x1="651.2" y1="1555.74" x2="670.8" y2="1555.74" stroke="#231f20" stroke-width="2.6"/>
<text x="631.14" y="1566.84" font-size="29.2" textLength="12.91" lengthAdjust="spacingAndGlyphs">5</text>
<line x1="651.2" y1="1692.51" x2="670.8" y2="1692.51" stroke="#231f20" stroke-width="2.6"/>
<text x="631.44" y="1703.61" font-size="29.2" textLength="12.91" lengthAdjust="spacingAndGlyphs">0</text>
<line x1="669.8" y1="1692.5" x2="669.8" y2="1710.6" stroke="#231f20" stroke-width="2.6"/>
<text x="661.76" y="1740" font-size="29.2" textLength="12.91" lengthAdjust="spacingAndGlyphs">0</text>
<line x1="772.15" y1="1692.5" x2="772.15" y2="1710.6" stroke="#231f20" stroke-width="2.6"/>
<text x="763.69" y="1740" font-size="29.2" textLength="12.91" lengthAdjust="spacingAndGlyphs">1</text>
<line x1="874.5" y1="1692.5" x2="874.5" y2="1710.6" stroke="#231f20" stroke-width="2.6"/>
<text x="866.51" y="1740" font-size="29.2" textLength="12.91" lengthAdjust="spacingAndGlyphs">2</text>
<line x1="976.85" y1="1692.5" x2="976.85" y2="1710.6" stroke="#231f20" stroke-width="2.6"/>
<text x="968.95" y="1740" font-size="29.2" textLength="12.91" lengthAdjust="spacingAndGlyphs">3</text>
<line x1="1079.2" y1="1692.5" x2="1079.2" y2="1710.6" stroke="#231f20" stroke-width="2.6"/>
<text x="1071.03" y="1740" font-size="29.2" textLength="12.91" lengthAdjust="spacingAndGlyphs">4</text>
<line x1="678.1" y1="1664.2" x2="991.7" y2="1564.8" stroke="#231f20" stroke-width="1.9"/>
<g fill="#231f20"><circle cx="771.7" cy="1346.1" r="6.25"/><circle cx="884.1" cy="1434" r="6.25"/><circle cx="915" cy="1540.5" r="6.25"/><circle cx="794" cy="1551.1" r="6.25"/><circle cx="831.4" cy="1560.8" r="6.25"/><circle cx="849.2" cy="1565.9" r="6.25"/><circle cx="794.7" cy="1574.6" r="6.25"/><circle cx="761.3" cy="1580.4" r="6.25"/><circle cx="816.8" cy="1599" r="6.25"/><circle cx="874.4" cy="1597.4" r="6.25"/><circle cx="897.1" cy="1592" r="6.25"/><circle cx="898.3" cy="1600.2" r="6.25"/><circle cx="902.8" cy="1609" r="6.25"/><circle cx="930.7" cy="1598.8" r="6.25"/><circle cx="786.7" cy="1626.6" r="6.25"/><circle cx="864.9" cy="1626.4" r="6.25"/><circle cx="890.7" cy="1636.4" r="6.25"/><circle cx="764.2" cy="1638" r="6.25"/><circle cx="809.4" cy="1637.3" r="6.25"/><circle cx="849.2" cy="1644" r="6.25"/><circle cx="991.2" cy="1636.5" r="6.25"/><circle cx="687.8" cy="1649" r="6.25"/><circle cx="723.2" cy="1647.5" r="6.25"/><circle cx="741.6" cy="1646.5" r="6.25"/><circle cx="752.4" cy="1650.8" r="6.25"/><circle cx="757.2" cy="1654.5" r="6.25"/><circle cx="773.4" cy="1656.3" r="6.25"/><circle cx="788" cy="1654" r="6.25"/><circle cx="843.9" cy="1655.3" r="6.25"/><circle cx="868.8" cy="1653.7" r="6.25"/><circle cx="723.2" cy="1658.4" r="6.25"/><circle cx="729.2" cy="1658.4" r="6.25"/><circle cx="745.3" cy="1658.2" r="6.25"/><circle cx="750.9" cy="1661.9" r="6.25"/><circle cx="762.2" cy="1664.5" r="6.25"/><circle cx="874.6" cy="1665.4" r="6.25"/><circle cx="695" cy="1667.3" r="6.25"/><circle cx="702.3" cy="1671.2" r="6.25"/><circle cx="723.5" cy="1668" r="6.25"/><circle cx="743.4" cy="1668.3" r="6.25"/><circle cx="774.7" cy="1669" r="6.25"/><circle cx="758.6" cy="1672.8" r="6.25"/><circle cx="678.7" cy="1679.2" r="6.25"/><circle cx="684" cy="1676.5" r="6.25"/><circle cx="706.4" cy="1679.7" r="6.25"/><circle cx="723.3" cy="1682.1" r="6.25"/><circle cx="809.7" cy="1676.8" r="6.25"/></g>
<text><tspan x="835.34" y="1329.4" font-size="31" textLength="10.99" lengthAdjust="spacingAndGlyphs">r</tspan><tspan x="847.95" y="1312.8" font-size="16.5" textLength="7.28" lengthAdjust="spacingAndGlyphs">2</tspan><tspan x="851.13" y="1329.4" font-size="31" textLength="107.39" lengthAdjust="spacingAndGlyphs"> = 0.1467</tspan></text>
<text x="835.51" y="1366.9" font-size="31" textLength="196.91" lengthAdjust="spacingAndGlyphs">p-value = 0.0072</text>
<text x="678.34" y="1778" font-size="31" textLength="391.89" lengthAdjust="spacingAndGlyphs">ADIPINT expression (arb.units)</text>
<text transform="translate(603.8 1596.1) rotate(-90)" x="-1.71" y="0" font-size="31.4" textLength="244.49" lengthAdjust="spacingAndGlyphs">HOMA-IR (arb.units)</text>
<line x1="1256.1" y1="1277.8" x2="1256.1" y2="1694.7" stroke="#231f20" stroke-width="2.6"/>
<line x1="1238" y1="1691.3" x2="1669.2" y2="1691.3" stroke="#231f20" stroke-width="2.6"/>
<line x1="1238" y1="1281.1" x2="1257.4" y2="1281.1" stroke="#231f20" stroke-width="2.6"/>
<text x="1196.02" y="1289.4" font-size="29.2" textLength="38.73" lengthAdjust="spacingAndGlyphs">300</text>
<line x1="1238" y1="1417.83" x2="1257.4" y2="1417.83" stroke="#231f20" stroke-width="2.6"/>
<text x="1196.02" y="1426.13" font-size="29.2" textLength="38.73" lengthAdjust="spacingAndGlyphs">200</text>
<line x1="1238" y1="1554.56" x2="1257.4" y2="1554.56" stroke="#231f20" stroke-width="2.6"/>
<text x="1196.02" y="1562.86" font-size="29.2" textLength="38.73" lengthAdjust="spacingAndGlyphs">100</text>
<text x="1221.84" y="1699.59" font-size="29.2" textLength="12.91" lengthAdjust="spacingAndGlyphs">0</text>
<line x1="1255.8" y1="1691.3" x2="1255.8" y2="1709.6" stroke="#231f20" stroke-width="2.6"/>
<text x="1247.76" y="1740.2" font-size="29.2" textLength="12.91" lengthAdjust="spacingAndGlyphs">0</text>
<line x1="1358.35" y1="1691.3" x2="1358.35" y2="1709.6" stroke="#231f20" stroke-width="2.6"/>
<text x="1349.89" y="1740.2" font-size="29.2" textLength="12.91" lengthAdjust="spacingAndGlyphs">1</text>
<line x1="1460.9" y1="1691.3" x2="1460.9" y2="1709.6" stroke="#231f20" stroke-width="2.6"/>
<text x="1452.91" y="1740.2" font-size="29.2" textLength="12.91" lengthAdjust="spacingAndGlyphs">2</text>
<line x1="1563.45" y1="1691.3" x2="1563.45" y2="1709.6" stroke="#231f20" stroke-width="2.6"/>
<text x="1555.55" y="1740.2" font-size="29.2" textLength="12.91" lengthAdjust="spacingAndGlyphs">3</text>
<line x1="1666" y1="1691.3" x2="1666" y2="1709.6" stroke="#231f20" stroke-width="2.6"/>
<text x="1657.83" y="1740.2" font-size="29.2" textLength="12.91" lengthAdjust="spacingAndGlyphs">4</text>
<line x1="1265.6" y1="1674.4" x2="1578.6" y2="1546.7" stroke="#231f20" stroke-width="1.9"/>
<g fill="#231f20"><circle cx="1470.9" cy="1346.9" r="6.25"/><circle cx="1358.5" cy="1433.3" r="6.25"/><circle cx="1417.9" cy="1548.7" r="6.25"/><circle cx="1501.3" cy="1564" r="6.25"/><circle cx="1517.3" cy="1588.2" r="6.25"/><circle cx="1380.5" cy="1590.8" r="6.25"/><circle cx="1403.4" cy="1589.2" r="6.25"/><circle cx="1451.4" cy="1595.6" r="6.25"/><circle cx="1461.2" cy="1593.3" r="6.25"/><circle cx="1347.7" cy="1603.5" r="6.25"/><circle cx="1483.8" cy="1603.5" r="6.25"/><circle cx="1308.6" cy="1623.7" r="6.25"/><circle cx="1435.6" cy="1625.1" r="6.25"/><circle cx="1485" cy="1619.2" r="6.25"/><circle cx="1489.5" cy="1625.1" r="6.25"/><circle cx="1350.8" cy="1632" r="6.25"/><circle cx="1309.5" cy="1636.1" r="6.25"/><circle cx="1435.6" cy="1634.5" r="6.25"/><circle cx="1381.3" cy="1639.8" r="6.25"/><circle cx="1477.2" cy="1645.5" r="6.25"/><circle cx="1274.5" cy="1650" r="6.25"/><circle cx="1315.3" cy="1646.9" r="6.25"/><circle cx="1328.1" cy="1647.4" r="6.25"/><circle cx="1331.8" cy="1650.6" r="6.25"/><circle cx="1339.3" cy="1653.9" r="6.25"/><circle cx="1359.6" cy="1661.3" r="6.25"/><circle cx="1396.2" cy="1659.1" r="6.25"/><circle cx="1430.7" cy="1658.2" r="6.25"/><circle cx="1342.8" cy="1661.5" r="6.25"/><circle cx="1455" cy="1663.6" r="6.25"/><circle cx="1461.7" cy="1666.9" r="6.25"/><circle cx="1281.2" cy="1667.5" r="6.25"/><circle cx="1310.4" cy="1667" r="6.25"/><circle cx="1335.7" cy="1665.5" r="6.25"/><circle cx="1287.4" cy="1671.5" r="6.25"/><circle cx="1293.2" cy="1671.5" r="6.25"/><circle cx="1282.7" cy="1673.6" r="6.25"/><circle cx="1331.4" cy="1670.2" r="6.25"/><circle cx="1348.6" cy="1670.2" r="6.25"/><circle cx="1344.6" cy="1675.7" r="6.25"/><circle cx="1360.9" cy="1676.3" r="6.25"/><circle cx="1264.2" cy="1676.8" r="6.25"/><circle cx="1270.3" cy="1679.4" r="6.25"/><circle cx="1309.8" cy="1680.8" r="6.25"/><circle cx="1396.2" cy="1679.2" r="6.25"/><circle cx="1577.8" cy="1498.7" r="6.25"/></g>
<text><tspan x="1466.84" y="1408.6" font-size="31" textLength="10.99" lengthAdjust="spacingAndGlyphs">r</tspan><tspan x="1479.45" y="1392" font-size="16.5" textLength="7.28" lengthAdjust="spacingAndGlyphs">2</tspan><tspan x="1482.65" y="1408.6" font-size="31" textLength="107.17" lengthAdjust="spacingAndGlyphs"> = 0.2403</tspan></text>
<text x="1467.02" y="1446.1" font-size="31" textLength="196.59" lengthAdjust="spacingAndGlyphs">p-value = 0.0005</text>
<text x="1270.94" y="1778" font-size="31" textLength="392.49" lengthAdjust="spacingAndGlyphs">ADIPINT expression (arb.units)</text>
<text transform="translate(1170.6 1601.6) rotate(-90)" x="-0.64" y="0" font-size="31.4" textLength="246.61" lengthAdjust="spacingAndGlyphs">ADIPO-IR (arb.units)</text>
</svg>
</body></html>
